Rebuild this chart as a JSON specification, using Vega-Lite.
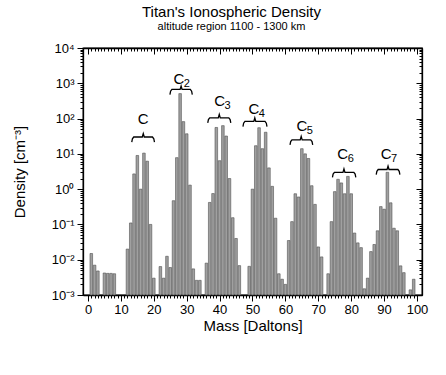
{
  "$schema": "https://vega.github.io/schema/vega-lite/v6.json",
  "width": 339,
  "height": 247,
  "autosize": {"type": "none"},
  "padding": {"left": 83, "top": 48, "right": 24, "bottom": 80},
  "background": "white",
  "config": {
    "font": "Liberation Sans",
    "view": {"stroke": "black", "strokeWidth": 1.3},
    "axis": {"domainColor": "black", "tickColor": "black", "labelColor": "black", "titleColor": "black", "grid": false, "labelFont": "Liberation Sans", "titleFont": "Liberation Sans", "titleFontWeight": "normal", "domainWidth": 1.3, "tickWidth": 1, "labelOverlap": false, "labelFlush": false}
  },
  "title": {"text": "Titan's Ionospheric Density", "subtitle": "altitude region 1100 - 1300 km", "fontSize": 15, "fontWeight": "normal", "subtitleFontSize": 11, "subtitlePadding": 1, "color": "black", "subtitleColor": "black", "anchor": "middle", "dx": -21, "offset": 10},
  "datasets": {
    "bars": [
      {"mass": 1, "density": 0.015}, {"mass": 2, "density": 0.007}, {"mass": 3, "density": 0.0048},
      {"mass": 5, "density": 0.0042}, {"mass": 6, "density": 0.0041}, {"mass": 7, "density": 0.0041}, {"mass": 8, "density": 0.004},
      {"mass": 12, "density": 0.02}, {"mass": 13, "density": 0.11}, {"mass": 14, "density": 2.7}, {"mass": 15, "density": 9},
      {"mass": 16, "density": 1.0}, {"mass": 17, "density": 10.5}, {"mass": 18, "density": 6.2}, {"mass": 19, "density": 0.1},
      {"mass": 20, "density": 0.003}, {"mass": 22, "density": 0.0064}, {"mass": 23, "density": 0.003}, {"mass": 24, "density": 0.0125},
      {"mass": 25, "density": 0.006}, {"mass": 26, "density": 0.47}, {"mass": 27, "density": 7.8}, {"mass": 28, "density": 510},
      {"mass": 29, "density": 82}, {"mass": 30, "density": 37}, {"mass": 31, "density": 1.3}, {"mass": 32, "density": 0.0055},
      {"mass": 33, "density": 0.0026}, {"mass": 34, "density": 0.0026}, {"mass": 36, "density": 0.008}, {"mass": 37, "density": 0.42},
      {"mass": 38, "density": 0.75}, {"mass": 39, "density": 56}, {"mass": 40, "density": 6.4}, {"mass": 41, "density": 63},
      {"mass": 42, "density": 32}, {"mass": 43, "density": 2.0}, {"mass": 44, "density": 0.155}, {"mass": 45, "density": 0.04},
      {"mass": 46, "density": 0.0068}, {"mass": 49, "density": 0.0065}, {"mass": 50, "density": 1.0}, {"mass": 51, "density": 17},
      {"mass": 52, "density": 55}, {"mass": 53, "density": 14}, {"mass": 54, "density": 41}, {"mass": 55, "density": 4},
      {"mass": 56, "density": 1.2}, {"mass": 57, "density": 0.15}, {"mass": 58, "density": 0.004}, {"mass": 59, "density": 0.0028},
      {"mass": 60, "density": 0.002}, {"mass": 61, "density": 0.035}, {"mass": 62, "density": 0.12}, {"mass": 63, "density": 0.74},
      {"mass": 64, "density": 0.6}, {"mass": 65, "density": 14}, {"mass": 66, "density": 10}, {"mass": 67, "density": 7.4},
      {"mass": 68, "density": 1.25}, {"mass": 69, "density": 0.37}, {"mass": 70, "density": 0.023}, {"mass": 71, "density": 0.012},
      {"mass": 73, "density": 0.004}, {"mass": 74, "density": 0.12}, {"mass": 75, "density": 0.85}, {"mass": 76, "density": 1.9},
      {"mass": 77, "density": 1.5}, {"mass": 78, "density": 0.74}, {"mass": 79, "density": 2.3}, {"mass": 80, "density": 0.74},
      {"mass": 81, "density": 0.057}, {"mass": 82, "density": 0.03}, {"mass": 83, "density": 0.022}, {"mass": 84, "density": 0.0015},
      {"mass": 85, "density": 0.003}, {"mass": 86, "density": 0.017}, {"mass": 87, "density": 0.027}, {"mass": 88, "density": 0.066},
      {"mass": 89, "density": 0.32}, {"mass": 90, "density": 0.27}, {"mass": 91, "density": 3.0}, {"mass": 92, "density": 0.41},
      {"mass": 93, "density": 0.078}, {"mass": 94, "density": 0.066}, {"mass": 95, "density": 0.0067}, {"mass": 96, "density": 0.0043},
      {"mass": 98, "density": 0.0014}, {"mass": 99, "density": 0.0028}
    ],
    "brackets": [
      {"g": "C", "x": 13.3, "y": 21.4, "o": 1}, {"g": "C", "x": 13.5, "y": 26.8, "o": 2}, {"g": "C", "x": 13.9, "y": 30, "o": 3}, {"g": "C", "x": 16.5, "y": 30, "o": 4}, {"g": "C", "x": 16.8, "y": 37.5, "o": 5}, {"g": "C", "x": 17.1, "y": 30, "o": 6}, {"g": "C", "x": 19.6, "y": 30, "o": 7}, {"g": "C", "x": 20.0, "y": 26.8, "o": 8}, {"g": "C", "x": 20.2, "y": 21.4, "o": 9},
      {"g": "C2", "x": 24.9, "y": 479, "o": 1}, {"g": "C2", "x": 25.1, "y": 598, "o": 2}, {"g": "C2", "x": 25.5, "y": 670, "o": 3}, {"g": "C2", "x": 28.0, "y": 670, "o": 4}, {"g": "C2", "x": 28.3, "y": 838, "o": 5}, {"g": "C2", "x": 28.6, "y": 670, "o": 6}, {"g": "C2", "x": 31.1, "y": 670, "o": 7}, {"g": "C2", "x": 31.5, "y": 598, "o": 8}, {"g": "C2", "x": 31.7, "y": 479, "o": 9},
      {"g": "C3", "x": 36.4, "y": 75, "o": 1}, {"g": "C3", "x": 36.6, "y": 93.8, "o": 2}, {"g": "C3", "x": 37.0, "y": 105, "o": 3}, {"g": "C3", "x": 39.6, "y": 105, "o": 4}, {"g": "C3", "x": 39.9, "y": 131, "o": 5}, {"g": "C3", "x": 40.2, "y": 105, "o": 6}, {"g": "C3", "x": 42.8, "y": 105, "o": 7}, {"g": "C3", "x": 43.2, "y": 93.8, "o": 8}, {"g": "C3", "x": 43.4, "y": 75, "o": 9},
      {"g": "C4", "x": 47.1, "y": 59.3, "o": 1}, {"g": "C4", "x": 47.3, "y": 74.1, "o": 2}, {"g": "C4", "x": 47.7, "y": 83, "o": 3}, {"g": "C4", "x": 50.4, "y": 83, "o": 4}, {"g": "C4", "x": 50.7, "y": 104, "o": 5}, {"g": "C4", "x": 51.0, "y": 83, "o": 6}, {"g": "C4", "x": 53.8, "y": 83, "o": 7}, {"g": "C4", "x": 54.2, "y": 74.1, "o": 8}, {"g": "C4", "x": 54.4, "y": 59.3, "o": 9},
      {"g": "C5", "x": 61.4, "y": 17.9, "o": 1}, {"g": "C5", "x": 61.6, "y": 22.3, "o": 2}, {"g": "C5", "x": 62.0, "y": 25, "o": 3}, {"g": "C5", "x": 64.5, "y": 25, "o": 4}, {"g": "C5", "x": 64.8, "y": 31.3, "o": 5}, {"g": "C5", "x": 65.1, "y": 25, "o": 6}, {"g": "C5", "x": 67.7, "y": 25, "o": 7}, {"g": "C5", "x": 68.1, "y": 22.3, "o": 8}, {"g": "C5", "x": 68.3, "y": 17.9, "o": 9},
      {"g": "C6", "x": 74.3, "y": 2.14, "o": 1}, {"g": "C6", "x": 74.5, "y": 2.68, "o": 2}, {"g": "C6", "x": 74.9, "y": 3.0, "o": 3}, {"g": "C6", "x": 77.5, "y": 3.0, "o": 4}, {"g": "C6", "x": 77.8, "y": 3.75, "o": 5}, {"g": "C6", "x": 78.1, "y": 3.0, "o": 6}, {"g": "C6", "x": 80.8, "y": 3.0, "o": 7}, {"g": "C6", "x": 81.2, "y": 2.68, "o": 8}, {"g": "C6", "x": 81.4, "y": 2.14, "o": 9},
      {"g": "C7", "x": 87.6, "y": 2.57, "o": 1}, {"g": "C7", "x": 87.8, "y": 3.21, "o": 2}, {"g": "C7", "x": 88.2, "y": 3.6, "o": 3}, {"g": "C7", "x": 90.9, "y": 3.6, "o": 4}, {"g": "C7", "x": 91.2, "y": 4.5, "o": 5}, {"g": "C7", "x": 91.5, "y": 3.6, "o": 6}, {"g": "C7", "x": 94.2, "y": 3.6, "o": 7}, {"g": "C7", "x": 94.6, "y": 3.21, "o": 8}, {"g": "C7", "x": 94.8, "y": 2.57, "o": 9}
    ],
    "labels": [
      {"x": 16.8, "y": 100, "main": "C", "sub": ""},
      {"x": 27.6, "y": 1350, "main": "C", "sub": "2"},
      {"x": 40.0, "y": 320, "main": "C", "sub": "3"},
      {"x": 50.4, "y": 190, "main": "C", "sub": "4"},
      {"x": 65.0, "y": 62, "main": "C", "sub": "5"},
      {"x": 77.4, "y": 10, "main": "C", "sub": "6"},
      {"x": 90.6, "y": 9.6, "main": "C", "sub": "7"}
    ]
  },
  "layer": [
    {
      "data": {"name": "bars"},
      "mark": {"type": "bar", "width": 2.6, "fill": "#a0a0a0", "stroke": "#505050", "strokeWidth": 0.6},
      "encoding": {
        "x": {"field": "mass", "type": "quantitative", "scale": {"domain": [0, 100], "nice": false, "zero": false},
          "axis": {"orient": "bottom", "title": "Mass [Daltons]", "titleFontSize": 15, "titlePadding": 2, "labelFontSize": 13, "labelPadding": 2,
            "values": [0,1,2,3,4,5,6,7,8,9,10,11,12,13,14,15,16,17,18,19,20,21,22,23,24,25,26,27,28,29,30,31,32,33,34,35,36,37,38,39,40,41,42,43,44,45,46,47,48,49,50,51,52,53,54,55,56,57,58,59,60,61,62,63,64,65,66,67,68,69,70,71,72,73,74,75,76,77,78,79,80,81,82,83,84,85,86,87,88,89,90,91,92,93,94,95,96,97,98,99,100],
            "labelExpr": "datum.value % 10 == 0 ? datum.label : ''",
            "tickSize": {"condition": {"test": "datum.value % 10 == 0", "value": 6}, "value": 3}}},
        "y": {"field": "density", "type": "quantitative", "scale": {"type": "log", "domain": [0.001, 10000], "nice": false},
          "axis": {"orient": "left", "title": "Density [cm⁻³]", "titleFontSize": 15, "titlePadding": 24, "labelFontSize": 13, "labelPadding": 3,
            "values": [0.001,0.002,0.003,0.004,0.005,0.006,0.007,0.008,0.009,0.01,0.02,0.03,0.04,0.05,0.06,0.07,0.08,0.09,0.1,0.2,0.3,0.4,0.5,0.6,0.7,0.8,0.9,1,2,3,4,5,6,7,8,9,10,20,30,40,50,60,70,80,90,100,200,300,400,500,600,700,800,900,1000,2000,3000,4000,5000,6000,7000,8000,9000,10000],
            "labelExpr": "datum.value == 0.001 ? '10⁻³' : datum.value == 0.01 ? '10⁻²' : datum.value == 0.1 ? '10⁻¹' : datum.value == 1 ? '10⁰' : datum.value == 10 ? '10¹' : datum.value == 100 ? '10²' : datum.value == 1000 ? '10³' : datum.value == 10000 ? '10⁴' : ''",
            "tickSize": {"condition": {"test": "indexof([0.001,0.01,0.1,1,10,100,1000,10000], datum.value) >= 0", "value": 6}, "value": 3}}},
        "y2": {"datum": 0.001}
      }
    },
    {
      "data": {"name": "bars"},
      "mark": {"type": "point", "opacity": 0},
      "encoding": {
        "x": {"field": "mass", "type": "quantitative",
          "axis": {"orient": "top", "title": null, "labels": false,
            "values": [0,1,2,3,4,5,6,7,8,9,10,11,12,13,14,15,16,17,18,19,20,21,22,23,24,25,26,27,28,29,30,31,32,33,34,35,36,37,38,39,40,41,42,43,44,45,46,47,48,49,50,51,52,53,54,55,56,57,58,59,60,61,62,63,64,65,66,67,68,69,70,71,72,73,74,75,76,77,78,79,80,81,82,83,84,85,86,87,88,89,90,91,92,93,94,95,96,97,98,99,100],
            "tickSize": {"condition": {"test": "datum.value % 10 == 0", "value": -6}, "value": -3}}},
        "y": {"field": "density", "type": "quantitative",
          "axis": {"orient": "right", "title": null, "labels": false,
            "values": [0.001,0.002,0.003,0.004,0.005,0.006,0.007,0.008,0.009,0.01,0.02,0.03,0.04,0.05,0.06,0.07,0.08,0.09,0.1,0.2,0.3,0.4,0.5,0.6,0.7,0.8,0.9,1,2,3,4,5,6,7,8,9,10,20,30,40,50,60,70,80,90,100,200,300,400,500,600,700,800,900,1000,2000,3000,4000,5000,6000,7000,8000,9000,10000],
            "tickSize": {"condition": {"test": "indexof([0.001,0.01,0.1,1,10,100,1000,10000], datum.value) >= 0", "value": -6}, "value": -3}}}
      }
    },
    {
      "data": {"name": "brackets"},
      "mark": {"type": "line", "color": "black", "strokeWidth": 1.3},
      "encoding": {
        "x": {"field": "x", "type": "quantitative", "axis": null},
        "y": {"field": "y", "type": "quantitative", "axis": null},
        "detail": {"field": "g"},
        "order": {"field": "o"}
      }
    },
    {
      "data": {"name": "labels"},
      "mark": {"type": "text", "fontSize": 15, "align": "center", "baseline": "middle", "color": "black"},
      "encoding": {
        "x": {"field": "x", "type": "quantitative", "axis": null},
        "y": {"field": "y", "type": "quantitative", "axis": null},
        "text": {"field": "main"}
      }
    },
    {
      "data": {"name": "labels"},
      "mark": {"type": "text", "fontSize": 11, "align": "left", "baseline": "middle", "dx": 5, "dy": 5, "color": "black"},
      "encoding": {
        "x": {"field": "x", "type": "quantitative", "axis": null},
        "y": {"field": "y", "type": "quantitative", "axis": null},
        "text": {"field": "sub"}
      }
    }
  ],
  "resolve": {"axis": {"x": "independent", "y": "independent"}}
}
